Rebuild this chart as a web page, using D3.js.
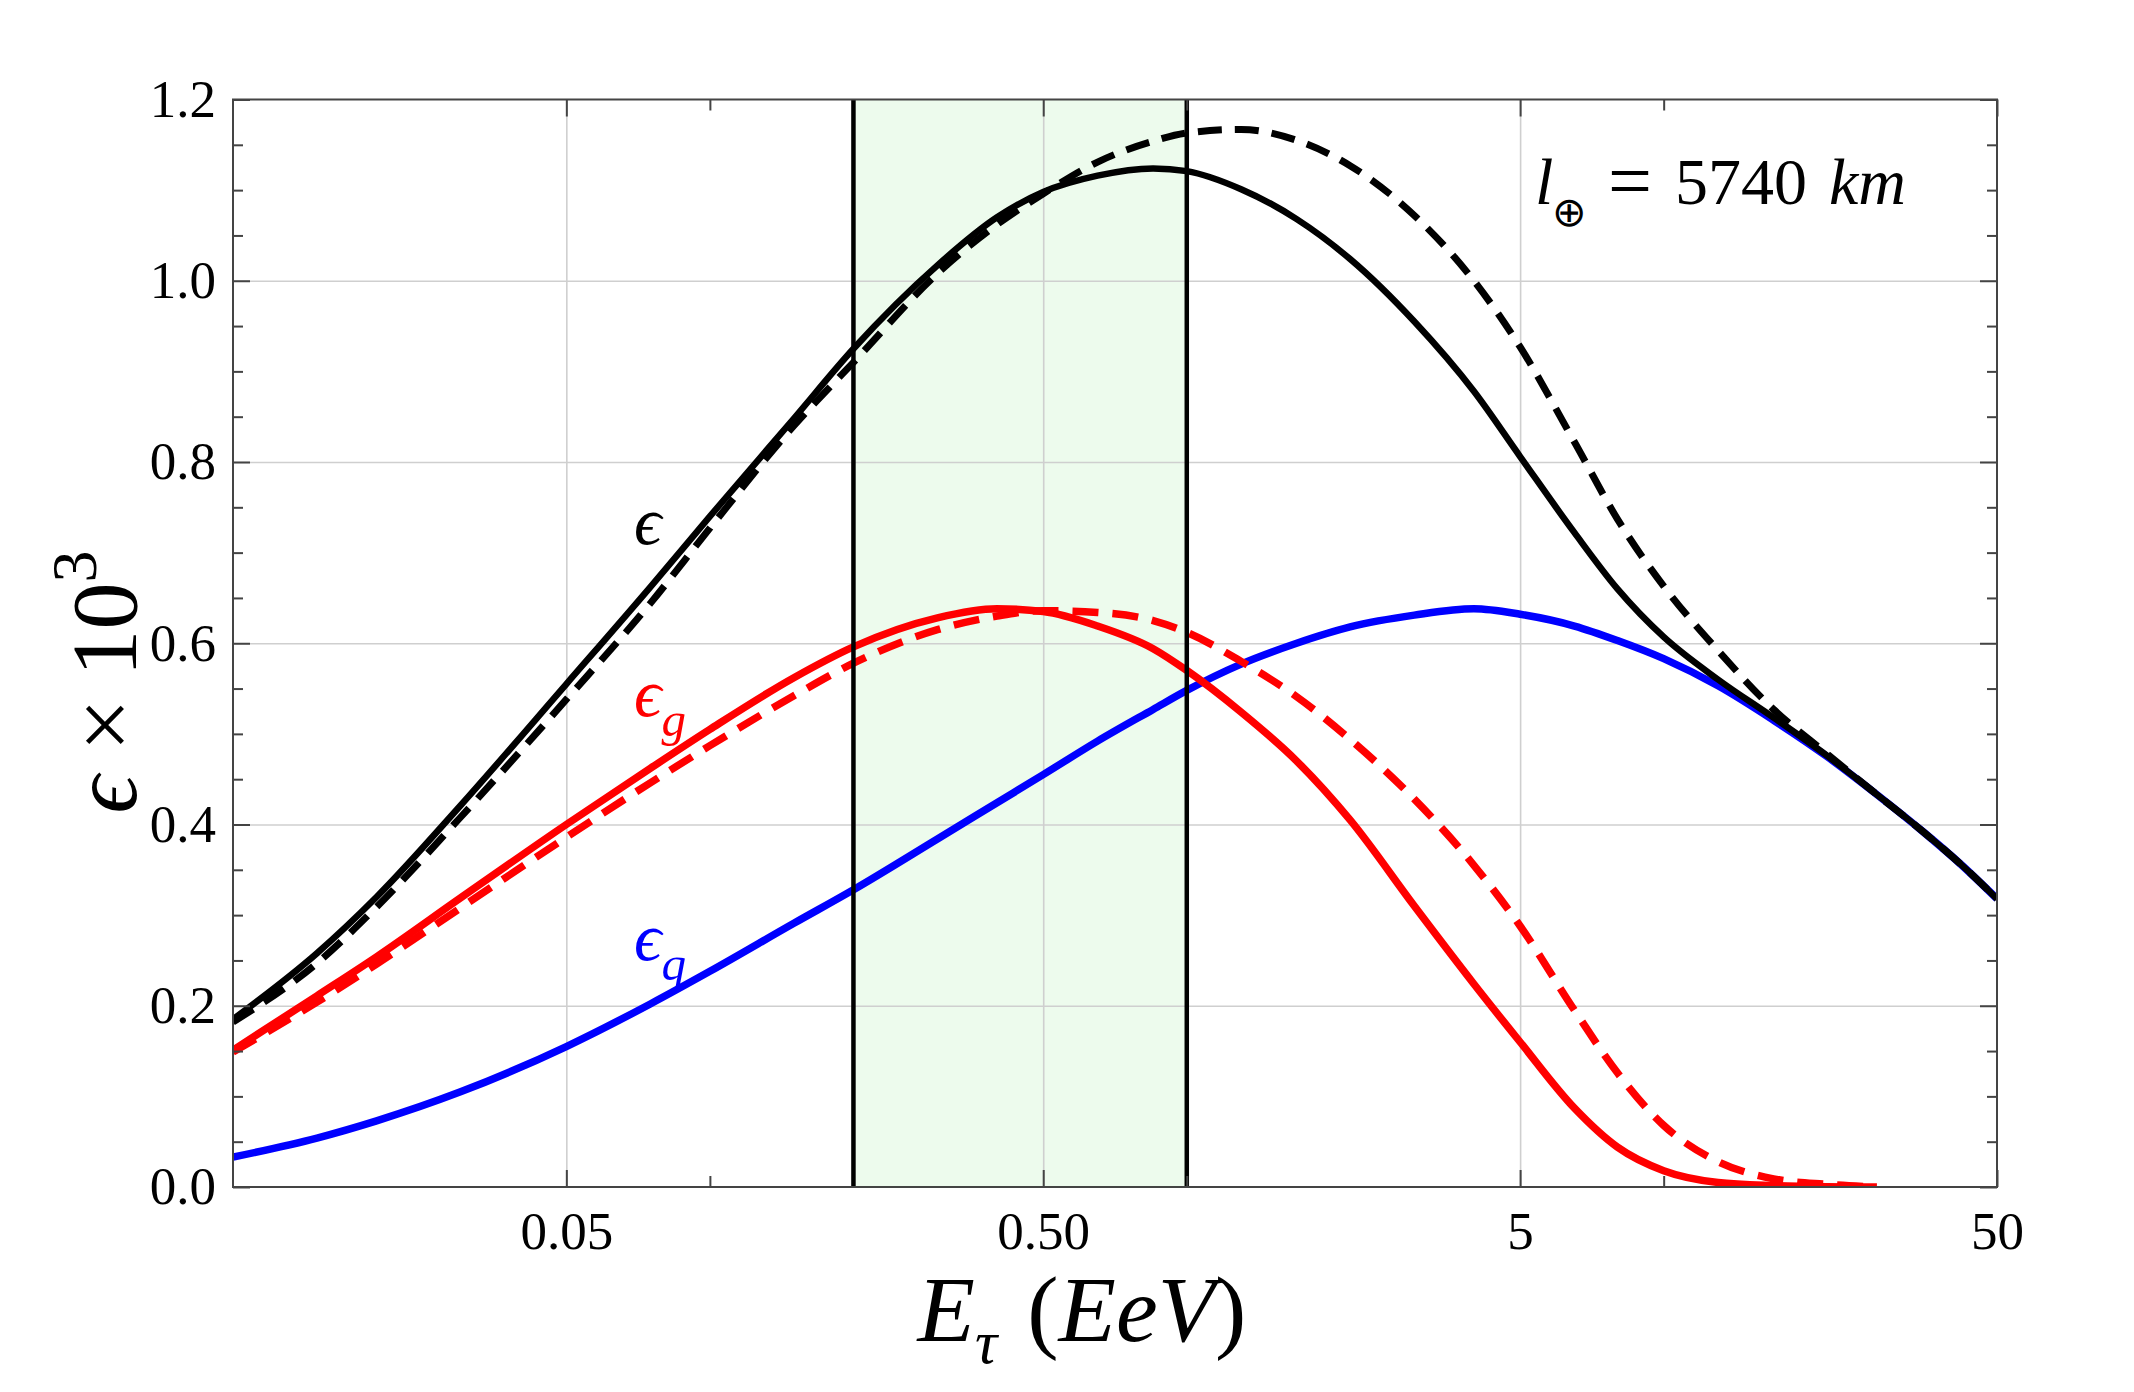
<!DOCTYPE html>
<html>
<head>
<meta charset="utf-8">
<script src="https://cdn.jsdelivr.net/npm/d3@7"></script>
<style>
  html, body { margin: 0; padding: 0; background: #fff; }
  svg text { font-family: "Liberation Serif", "Times New Roman", "DejaVu Serif", serif; }
</style>
</head>
<body>
<div id="main"></div>
<script>
// data
const energy = [0.01, 0.015, 0.02, 0.03, 0.05, 0.075, 0.1, 0.15, 0.2, 0.3, 0.4, 0.5, 0.65, 0.85,
  1.0, 1.3, 1.7, 2.2, 3.0, 4.0, 5.0, 6.5, 8.0, 10, 13, 17, 22, 28, 35, 42, 50];

const epsTotal = [0.185, 0.258, 0.320, 0.421, 0.555, 0.662, 0.740, 0.848, 0.925, 1.017, 1.070, 1.098, 1.116, 1.124,
  1.121, 1.101, 1.068, 1.024, 0.955, 0.878, 0.806, 0.722, 0.660, 0.607, 0.560, 0.518, 0.476, 0.433, 0.392, 0.356, 0.318];

const epsTotalDashed = [0.182, 0.247, 0.309, 0.408, 0.538, 0.644, 0.727, 0.840, 0.910, 1.008, 1.062, 1.096, 1.131, 1.154,
  1.163, 1.167, 1.155, 1.127, 1.072, 1.000, 0.927, 0.822, 0.737, 0.663, 0.592, 0.527, 0.478, 0.433, 0.392, 0.356, 0.318];

const epsGluon = [0.151, 0.211, 0.254, 0.319, 0.400, 0.462, 0.505, 0.562, 0.596, 0.628, 0.638, 0.635, 0.619, 0.594,
  0.570, 0.524, 0.470, 0.405, 0.310, 0.224, 0.160, 0.087, 0.044, 0.018, 0.005, 0.0015, 0.0003, 0.0, null, null, null];

const epsGluonDashed = [0.149, 0.204, 0.246, 0.308, 0.386, 0.446, 0.487, 0.542, 0.578, 0.615, 0.630, 0.636, 0.634, 0.625,
  0.612, 0.580, 0.541, 0.494, 0.428, 0.355, 0.288, 0.195, 0.126, 0.068, 0.028, 0.009, 0.003, 0.0, null, null, null];

const epsQuark = [0.033, 0.054, 0.073, 0.105, 0.155, 0.202, 0.238, 0.291, 0.328, 0.384, 0.424, 0.455, 0.492, 0.527,
  0.548, 0.577, 0.600, 0.618, 0.631, 0.638, 0.632, 0.619, 0.603, 0.583, 0.553, 0.515, 0.475, 0.433, 0.392, 0.356, 0.318];

const xTickValues = [0.05, 0.5, 5, 50];
const xTickLabels = ['0.05', '0.50', '5', '50'];
const xMinorValues = [0.1, 1, 10];
const yTickValues = [0, 0.2, 0.4, 0.6, 0.8, 1.0, 1.2];
const yTickLabels = ['0.0', '0.2', '0.4', '0.6', '0.8', '1.0', '1.2'];
const yMinorValues = [0.05, 0.1, 0.15, 0.25, 0.3, 0.35, 0.45, 0.5, 0.55, 0.65, 0.7, 0.75, 0.85, 0.9, 0.95, 1.05, 1.1, 1.15];
const bandRange = [0.2, 1.0];

!(function () {
  'use strict';

  let
    svg = undefined,
    plot = undefined,
    xScale = undefined,
    yScale = undefined;

  const serif = '"Liberation Serif", "Times New Roman", "DejaVu Serif", serif';

  const canvas = {
    context: '#main',
    width: 2134,
    height: 1392,
    padding: { top: 99.5, right: 137, bottom: 205, left: 233 }
  };
  const inner = {
    width: canvas.width - canvas.padding.left - canvas.padding.right,
    height: canvas.height - canvas.padding.top - canvas.padding.bottom
  };

  function setCanvas() {
    svg = d3.select(canvas.context)
      .append('svg')
      .attr('width', canvas.width)
      .attr('height', canvas.height)
      .attr('font-family', serif);
    plot = svg.append('g')
      .attr('transform', 'translate(' + canvas.padding.left + ',' + canvas.padding.top + ')');
    plot.append('clipPath').attr('id', 'clip')
      .append('rect').attr('width', inner.width).attr('height', inner.height);
  }

  function setScales() {
    xScale = d3.scaleLog().domain([0.01, 50]).range([0, inner.width]);
    yScale = d3.scaleLinear().domain([0, 1.2]).range([inner.height, 0]);
  }

  function drawBand() {
    plot.append('rect')
      .attr('x', xScale(bandRange[0]))
      .attr('y', 0)
      .attr('width', xScale(bandRange[1]) - xScale(bandRange[0]))
      .attr('height', inner.height)
      .attr('fill', '#edfbed');
  }

  function styleAxis(g) {
    g.selectAll('.domain').remove();
    g.selectAll('line').attr('stroke', '#444').attr('stroke-width', 2);
  }

  function drawGrid() {
    plot.append('g')
      .attr('transform', 'translate(0,' + inner.height + ')')
      .call(d3.axisBottom(xScale).tickValues(xTickValues.slice(0, 3)).tickSize(-inner.height).tickFormat(''))
      .call(g => g.selectAll('.domain').remove())
      .call(g => g.selectAll('line').attr('stroke', '#cfcfcf').attr('stroke-width', 1.6));
    plot.append('g')
      .call(d3.axisLeft(yScale).tickValues(yTickValues.slice(1, 6)).tickSize(-inner.width).tickFormat(''))
      .call(g => g.selectAll('.domain').remove())
      .call(g => g.selectAll('line').attr('stroke', '#cfcfcf').attr('stroke-width', 1.6));
  }

  function drawAxes() {
    // bottom
    plot.append('g')
      .attr('class', 'axis x')
      .attr('transform', 'translate(0,' + inner.height + ')')
      .call(d3.axisBottom(xScale).tickValues(xTickValues).tickSizeInner(-17).tickSizeOuter(0).tickPadding(24)
        .tickFormat((d, i) => xTickLabels[i]))
      .call(styleAxis);
    plot.append('g')
      .attr('transform', 'translate(0,' + inner.height + ')')
      .call(d3.axisBottom(xScale).tickValues(xMinorValues).tickSizeInner(-11).tickSizeOuter(0).tickFormat(''))
      .call(styleAxis);
    // top
    plot.append('g')
      .call(d3.axisTop(xScale).tickValues(xTickValues).tickSizeInner(-17).tickSizeOuter(0).tickFormat(''))
      .call(styleAxis);
    plot.append('g')
      .call(d3.axisTop(xScale).tickValues(xMinorValues).tickSizeInner(-11).tickSizeOuter(0).tickFormat(''))
      .call(styleAxis);
    // left
    plot.append('g')
      .attr('class', 'axis y')
      .call(d3.axisLeft(yScale).tickValues(yTickValues).tickSizeInner(-17).tickSizeOuter(0).tickPadding(17)
        .tickFormat((d, i) => yTickLabels[i]))
      .call(styleAxis);
    plot.append('g')
      .call(d3.axisLeft(yScale).tickValues(yMinorValues).tickSizeInner(-10).tickSizeOuter(0).tickFormat(''))
      .call(styleAxis);
    // right
    plot.append('g')
      .attr('transform', 'translate(' + inner.width + ',0)')
      .call(d3.axisRight(yScale).tickValues(yTickValues).tickSizeInner(-17).tickSizeOuter(0).tickFormat(''))
      .call(styleAxis);
    plot.append('g')
      .attr('transform', 'translate(' + inner.width + ',0)')
      .call(d3.axisRight(yScale).tickValues(yMinorValues).tickSizeInner(-10).tickSizeOuter(0).tickFormat(''))
      .call(styleAxis);

    plot.selectAll('.axis text')
      .attr('font-family', serif)
      .attr('font-size', 53)
      .attr('fill', '#000');
  }

  function drawCurve(values, color, width, dash) {
    const line = d3.line()
      .defined((d, i) => values[i] !== null)
      .x((d, i) => xScale(energy[i]))
      .y((d, i) => yScale(values[i]))
      .curve(d3.curveMonotoneX);
    plot.append('path')
      .datum(values)
      .attr('clip-path', 'url(#clip)')
      .attr('d', line)
      .attr('fill', 'none')
      .attr('stroke', color)
      .attr('stroke-width', width)
      .attr('stroke-dasharray', dash || null)
      .attr('stroke-linejoin', 'round');
  }

  function drawBandEdges() {
    plot.selectAll('.band-edge')
      .data(bandRange)
      .enter()
      .append('line')
      .attr('class', 'band-edge')
      .attr('x1', d => xScale(d)).attr('x2', d => xScale(d))
      .attr('y1', 0).attr('y2', inner.height)
      .attr('stroke', '#000')
      .attr('stroke-width', 4.5);
  }

  function drawFrame() {
    plot.append('rect')
      .attr('width', inner.width)
      .attr('height', inner.height)
      .attr('fill', 'none')
      .attr('stroke', '#444')
      .attr('stroke-width', 2);
  }

  function drawLabels() {
    // x label
    const xl = svg.append('text')
      .attr('x', 1082)
      .attr('y', 1341)
      .attr('text-anchor', 'middle')
      .attr('font-size', 94);
    xl.append('tspan').attr('font-style', 'italic').text('E');
    xl.append('tspan').attr('font-style', 'italic').attr('font-size', 62).attr('dy', 22).text('τ');
    xl.append('tspan').attr('dy', -22).attr('dx', 30).text('(');
    xl.append('tspan').attr('font-style', 'italic').text('EeV');
    xl.append('tspan').text(')');

    // y label
    const yl = svg.append('text')
      .attr('transform', 'translate(136,682) rotate(-90)')
      .attr('text-anchor', 'middle')
      .attr('font-size', 94);
    yl.append('tspan').attr('font-style', 'italic').text('ϵ');
    yl.append('tspan').attr('dx', 24).text('×');
    yl.append('tspan').attr('dx', 22).text('10');
    yl.append('tspan').attr('font-size', 64).attr('dy', -40).text('3');

    // annotation
    const an = svg.append('text')
      .attr('font-size', 66);
    an.append('tspan').attr('x', 1535).attr('y', 204).attr('font-style', 'italic').text('l');
    an.append('tspan').attr('x', 1552).attr('y', 226).attr('font-family', '"DejaVu Sans", sans-serif')
      .attr('font-size', 41).text('⊕');
    an.append('tspan').attr('x', 1608).attr('y', 207).attr('font-size', 78).text('=');
    an.append('tspan').attr('x', 1675).attr('y', 204).text('5740');
    an.append('tspan').attr('x', 1829).attr('y', 204).attr('font-style', 'italic').text('km');

    // curve labels
    const labels = [
      { main: 'ϵ', sub: '', color: '#000', y: 544 },
      { main: 'ϵ', sub: 'g', color: '#ff0000', y: 716 },
      { main: 'ϵ', sub: 'q', color: '#0000ff', y: 960 }
    ];
    labels.forEach(function (l) {
      const t = svg.append('text')
        .attr('x', 634)
        .attr('y', l.y)
        .attr('font-size', 68)
        .attr('font-style', 'italic')
        .attr('fill', l.color);
      t.append('tspan').text(l.main);
      if (l.sub) {
        t.append('tspan').attr('font-size', 49).attr('dy', 20).text(l.sub);
      }
    });
  }

  // control
  setCanvas();
  setScales();
  drawBand();
  drawGrid();
  drawCurve(epsQuark, '#0000ff', 7.5);
  drawCurve(epsGluonDashed, '#ff0000', 7.5, '26,14');
  drawCurve(epsGluon, '#ff0000', 7.5);
  drawCurve(epsTotalDashed, '#000', 7, '24,13');
  drawCurve(epsTotal, '#000', 6.5);
  drawBandEdges();
  drawAxes();
  drawFrame();
  drawLabels();
}());
</script>
</body>
</html>
